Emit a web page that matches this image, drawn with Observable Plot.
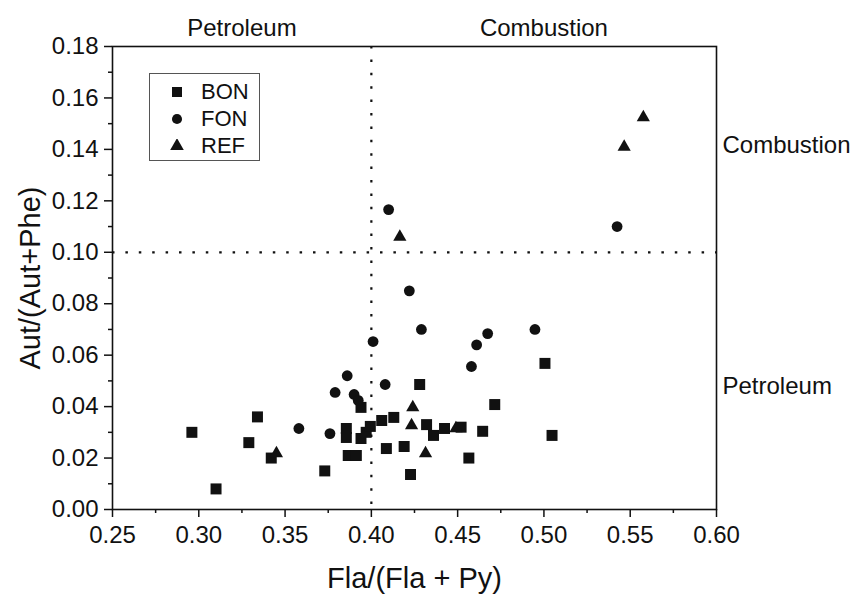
<!DOCTYPE html>
<html>
<head>
<meta charset="utf-8">
<script src="https://cdn.jsdelivr.net/npm/d3@7"></script>
<script src="https://cdn.jsdelivr.net/npm/@observablehq/plot@0.6"></script>
<style>
  body { margin: 0; background: #fff; font-family: "Liberation Sans", Arial, sans-serif; }
  #chart { position: relative; width: 853px; height: 595px; }
  #legend { position: absolute; left: 149px; top: 73px; width: 111px; height: 88px;
            border: 1.2px solid #555; box-sizing: border-box; background: #fff; }
  .row { position: absolute; left: 0; height: 28px; display: flex; align-items: center;
         font-size: 22px; color: #111; }
  .row svg { margin-left: 20px; margin-right: 17px; }
</style>
</head>
<body>
<div id="chart"><div id="legend"></div></div>
<script>
// Fla/(Fla+Py) vs Aut/(Aut+Phe) diagnostic ratios for three sample groups
const bonX = [0.296, 0.310, 0.329, 0.334, 0.342, 0.373, 0.3855, 0.3855, 0.3866, 0.3913,
              0.394, 0.394, 0.397, 0.3994, 0.406, 0.4087, 0.413, 0.419, 0.4227, 0.428,
              0.432, 0.436, 0.4424, 0.452, 0.4565, 0.4645, 0.4715, 0.5006, 0.5047];
const bonY = [0.030, 0.008, 0.026, 0.036, 0.020, 0.015, 0.0315, 0.028, 0.021, 0.021,
              0.0397, 0.0276, 0.030, 0.0323, 0.0346, 0.0237, 0.0358, 0.0245, 0.0136, 0.0486,
              0.033, 0.0288, 0.0315, 0.032, 0.020, 0.0304, 0.0408, 0.0568, 0.0288];

const fonX = [0.358, 0.376, 0.379, 0.386, 0.390, 0.3924, 0.401, 0.408, 0.410, 0.422,
              0.429, 0.458, 0.461, 0.4674, 0.4948, 0.5424];
const fonY = [0.0315, 0.0295, 0.0455, 0.052, 0.0447, 0.0424, 0.0653, 0.0486, 0.1166, 0.085,
              0.070, 0.0556, 0.064, 0.0684, 0.070, 0.110];

const refX = [0.345, 0.4165, 0.424, 0.4233, 0.4314, 0.449, 0.5465, 0.5576];
const refY = [0.0218, 0.106, 0.0397, 0.0327, 0.0218, 0.0315, 0.141, 0.1524];

// axis ticks
const xTicks = [0.25, 0.30, 0.35, 0.40, 0.45, 0.50, 0.55, 0.60];
const xMinor = [0.275, 0.325, 0.375, 0.425, 0.475, 0.525, 0.575];
const yTicks = [0.00, 0.02, 0.04, 0.06, 0.08, 0.10, 0.12, 0.14, 0.16, 0.18];
const yMinor = [0.01, 0.03, 0.05, 0.07, 0.09, 0.11, 0.13, 0.15, 0.17];

// source-apportionment thresholds and region labels
const flaThreshold = [0.40];
const autThreshold = [0.10];
const topRegions = ["Petroleum", "Combustion"];
const topRegionX = [0.325, 0.50];
const sideRegions = ["Combustion", "Petroleum"];
const sideRegionY = [0.1415, 0.048];

const groups = ["BON", "FON", "REF"];

const toPoints = (xs, ys) => xs.map((x, i) => ({x, y: ys[i]}));
const bon = toPoints(bonX, bonY);
const fon = toPoints(fonX, fonY);
const ref = toPoints(refX, refY);

const ink = "#111";
const dotted = {stroke: ink, strokeWidth: 2.2, strokeDasharray: "2.5,10.9"};

const chart = Plot.plot({
  width: 853,
  height: 595,
  marginLeft: 112,
  marginRight: 137,
  marginTop: 46,
  marginBottom: 86,
  style: {fontFamily: "'Liberation Sans', Arial, sans-serif", color: ink, background: "#fff"},
  x: {domain: [0.25, 0.60]},
  y: {domain: [0, 0.18]},
  marks: [
    Plot.ruleX(flaThreshold, dotted),
    Plot.ruleY(autThreshold, dotted),
    Plot.axisX(xMinor, {tickSize: 4, fill: "none", label: null, strokeWidth: 1.5}),
    Plot.axisY(yMinor, {tickSize: 4, fill: "none", label: null, strokeWidth: 1.5}),
    Plot.axisX(xTicks, {tickSize: 8, tickPadding: 8, fontSize: 24, strokeWidth: 1.5,
                        tickFormat: d => d.toFixed(2), label: null}),
    Plot.axisY(yTicks, {tickSize: 8, tickPadding: 6, fontSize: 24, strokeWidth: 1.5,
                        tickFormat: d => d.toFixed(2), label: null}),
    Plot.frame({stroke: ink, strokeWidth: 1.6}),
    Plot.dot(bon, {x: "x", y: "y", symbol: "square", r: 6.2, fill: ink}),
    Plot.dot(fon, {x: "x", y: "y", symbol: "circle", r: 5.4, fill: ink}),
    Plot.dot(ref, {x: "x", y: "y", symbol: "triangle", r: 4.9, fill: ink}),
    Plot.text(topRegions, {x: (d, i) => topRegionX[i], frameAnchor: "top", dy: -18,
                           lineAnchor: "middle", fontSize: 24, fill: ink}),
    Plot.text(sideRegions, {y: (d, i) => sideRegionY[i], frameAnchor: "right", dx: 6,
                            textAnchor: "start", lineAnchor: "middle", fontSize: 24, fill: ink}),
    Plot.text(["Fla/(Fla + Py)"], {frameAnchor: "bottom", dy: 69, lineAnchor: "middle",
                                   textAnchor: "middle", fontSize: 29, fill: ink}),
    Plot.text(["Aut/(Aut+Phe)"], {frameAnchor: "left", dx: -82, rotate: -90,
                                  textAnchor: "middle", lineAnchor: "middle",
                                  fontSize: 29, fill: ink})
  ]
});

const holder = document.getElementById("chart");
holder.insertBefore(chart, holder.firstChild);

// legend box: one row per sample group with its marker
const legendSymbols = {BON: [d3.symbolSquare, 100], FON: [d3.symbolCircle, 80], REF: [d3.symbolTriangle, 80]};
const legend = document.getElementById("legend");
groups.forEach((g, i) => {
  const row = document.createElement("div");
  row.className = "row";
  row.style.top = (4 + i * 27) + "px";
  const [type, size] = legendSymbols[g];
  const path = d3.symbol(type, size)();
  row.innerHTML = `<svg width="14" height="14" viewBox="-7 -7 14 14"><path d="${path}" fill="${ink}"/></svg><span>${g}</span>`;
  legend.appendChild(row);
});
</script>
</body>
</html>
